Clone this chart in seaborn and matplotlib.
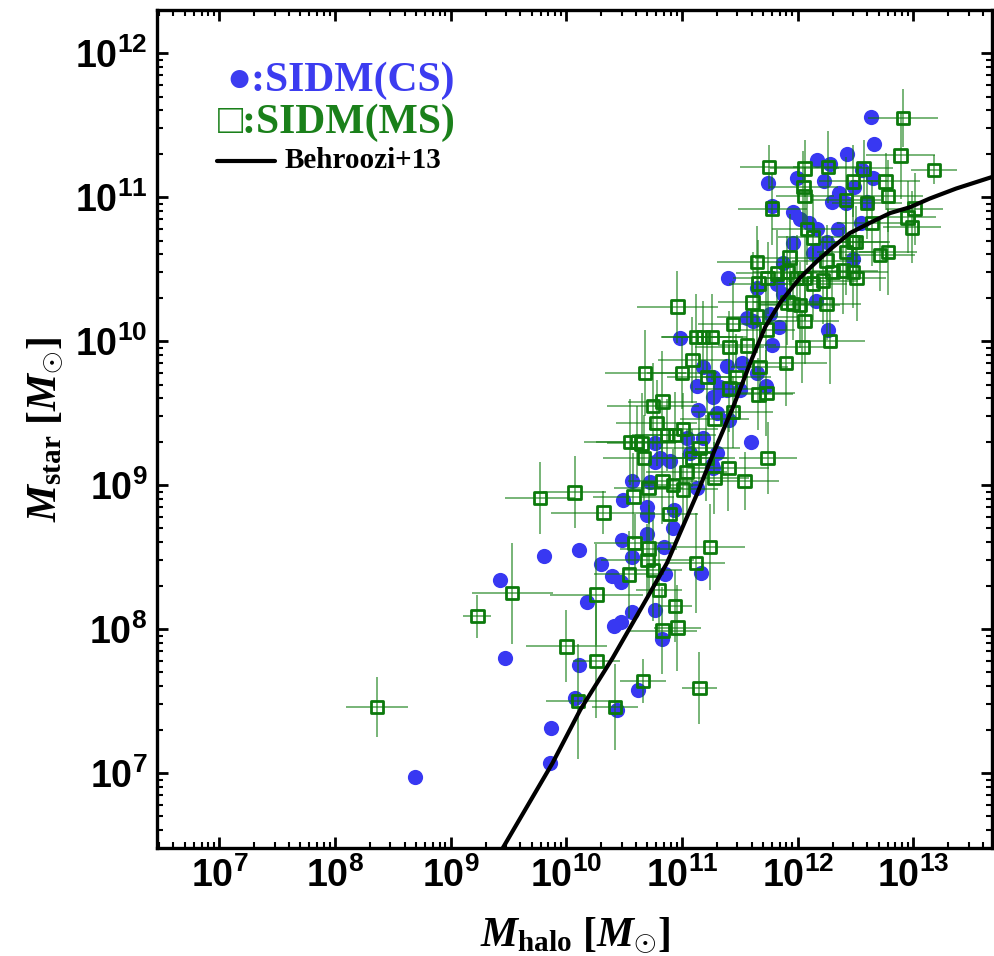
import numpy as np
import pandas as pd
import matplotlib
matplotlib.use("Agg")
import matplotlib.pyplot as plt
import seaborn as sns
from matplotlib.ticker import LogLocator, FixedLocator, FuncFormatter, NullFormatter

# ---------------- data (log10 of masses) ----------------
cs_logmh = [8.69, 9.86, 9.87, 9.47, 10.07, 10.11, 10.44, 10.62, 10.83, 10.41, 10.47, 10.57, 10.77, 10.18,
            9.43, 9.81, 10.11, 10.30, 10.39, 10.47, 10.48, 10.57, 10.70, 10.84, 10.92, 10.85, 11.16, 10.70,
            10.70, 10.93, 10.49, 10.57, 10.77, 10.90, 11.13, 11.26, 10.72, 11.07, 11.18, 11.14, 11.30, 11.41,
            11.27, 11.39, 11.50, 11.13, 11.18, 11.39, 11.52, 11.56, 11.76, 11.84, 11.78, 12.26, 11.60, 11.73,
            11.65, 10.98, 11.27, 11.40, 11.61, 11.65, 11.82, 11.87, 12.16, 11.96, 12.13, 11.87, 12.48, 12.25,
            12.16, 12.63, 12.66, 12.43, 12.17, 12.28, 11.99, 11.74, 12.23, 12.65, 12.56, 12.49, 12.36, 12.30,
            12.42, 12.60, 11.78, 11.96, 12.02, 12.10, 12.17, 12.35, 12.55, 11.33, 11.04, 11.30, 11.27, 10.77,
            10.81, 11.34]
cs_logms = [6.97, 7.07, 7.31, 7.80, 7.52, 7.75, 7.44, 7.58, 7.93, 8.02, 8.05, 8.12, 8.13, 8.19,
            8.34, 8.51, 8.55, 8.45, 8.37, 8.33, 8.62, 8.50, 8.66, 8.57, 8.70, 8.38, 8.39, 8.85,
            8.79, 8.83, 8.90, 9.03, 9.16, 9.17, 8.98, 9.14, 9.02, 9.22, 9.33, 9.52, 9.50, 9.45,
            9.61, 9.66, 9.66, 9.69, 9.82, 9.83, 9.85, 10.16, 10.19, 10.10, 9.97, 10.08, 9.30, 9.69,
            9.78, 10.02, 9.75, 10.44, 10.14, 10.37, 10.40, 10.33, 10.28, 10.68, 10.61, 10.54, 10.57, 10.69,
            10.63, 11.56, 11.37, 11.30, 11.26, 11.23, 11.13, 11.10, 11.11, 11.13, 11.19, 11.07, 11.03, 10.97,
            10.96, 10.97, 10.94, 10.90, 10.85, 10.82, 10.78, 10.78, 10.82, 9.68, 9.33, 9.22, 9.12, 9.29,
            9.19, 9.66]

ms_logmh = [8.36, 9.23, 9.53, 9.77, 10.07, 10.32, 10.00, 10.26, 10.10, 10.42, 10.66, 11.15, 10.26, 10.59,
            10.71, 10.70, 10.54, 10.75, 10.80, 10.94, 10.96, 10.83, 11.12, 11.24, 10.58, 10.71, 10.89, 10.83,
            10.92, 11.01, 11.04, 11.09, 11.21, 11.28, 11.40, 11.54, 11.74, 10.67, 10.55, 10.61, 10.65, 10.78,
            10.87, 10.94, 11.01, 10.75, 10.83, 10.68, 11.00, 11.09, 11.22, 11.47, 11.67, 11.41, 11.66, 11.73,
            11.44, 11.28, 11.15, 10.96, 11.44, 11.61, 11.65, 11.66, 11.74, 11.82, 11.91, 11.99, 12.06, 12.13,
            12.22, 12.30, 12.39, 12.48, 12.51, 11.91, 11.96, 12.02, 12.25, 12.06, 11.73, 12.28, 11.12, 11.18,
            11.26, 11.41, 11.56, 12.04, 11.90, 11.65, 11.93, 12.25, 12.42, 12.48, 12.91, 12.89, 13.18, 11.75,
            12.06, 12.26, 12.57, 12.48, 12.76, 12.05, 12.06, 11.78, 12.42, 12.60, 12.78, 13.01, 12.95, 12.99,
            12.08, 12.13, 12.64, 12.50, 12.71, 12.78]
ms_logms = [7.46, 8.09, 8.25, 8.91, 8.95, 8.81, 7.88, 7.78, 7.50, 7.46, 7.64, 7.59, 8.24, 8.60,
            8.56, 8.48, 8.38, 8.41, 8.27, 8.16, 8.01, 7.99, 8.46, 8.57, 8.92, 8.98, 8.80, 9.03,
            9.00, 8.97, 9.09, 9.19, 9.19, 9.05, 9.12, 9.03, 9.19, 9.19, 9.30, 9.30, 9.29, 9.43,
            9.35, 9.35, 9.39, 9.55, 9.58, 9.78, 9.78, 9.87, 9.75, 9.75, 9.82, 9.67, 9.63, 9.64,
            9.51, 9.46, 9.26, 10.24, 10.12, 10.27, 10.17, 10.40, 10.44, 10.47, 10.48, 10.44, 10.44, 10.40,
            10.42, 10.48, 10.49, 10.48, 10.44, 10.27, 10.26, 10.25, 10.26, 10.14, 10.08, 10.00, 10.03, 10.03,
            10.03, 9.96, 9.97, 9.96, 9.85, 10.55, 10.58, 10.56, 10.62, 10.69, 11.55, 11.29, 11.19, 11.21,
            11.20, 11.21, 11.20, 11.11, 11.11, 11.07, 11.01, 10.92, 10.98, 10.96, 11.01, 10.92, 10.86, 10.79,
            10.78, 10.72, 10.82, 10.69, 10.60, 10.62]
ms_err_logmh = [0.27, 0.12, 0.35, 0.30, 0.27, 0.45, 0.35, 0.20, 0.28, 0.20, 0.20, 0.15, 0.40, 0.35,
                0.25, 0.40, 0.30, 0.25, 0.20, 0.15, 0.20, 0.30, 0.25, 0.30, 0.35, 0.30, 0.25, 0.30,
                0.25, 0.30, 0.35, 0.30, 0.25, 0.30, 0.35, 0.30, 0.25, 0.35, 0.40, 0.35, 0.30, 0.35,
                0.30, 0.35, 0.30, 0.40, 0.30, 0.35, 0.30, 0.30, 0.35, 0.30, 0.25, 0.30, 0.30, 0.25,
                0.35, 0.30, 0.35, 0.35, 0.30, 0.30, 0.35, 0.25, 0.30, 0.35, 0.30, 0.30, 0.25, 0.30,
                0.30, 0.25, 0.30, 0.30, 0.25, 0.30, 0.30, 0.35, 0.30, 0.30, 0.25, 0.30, 0.30, 0.35,
                0.30, 0.30, 0.25, 0.30, 0.35, 0.35, 0.30, 0.30, 0.25, 0.30, 0.30, 0.30, 0.20, 0.25,
                0.30, 0.30, 0.25, 0.30, 0.30, 0.30, 0.25, 0.30, 0.30, 0.30, 0.30, 0.25, 0.25, 0.25,
                0.30, 0.30, 0.30, 0.30, 0.30, 0.25]
ms_err_logms = [0.21, 0.15, 0.35, 0.25, 0.25, 0.15, 0.25, 0.40, 0.40, 0.30, 0.15, 0.25, 0.35, 0.20,
                0.30, 0.25, 0.30, 0.35, 0.30, 0.25, 0.30, 0.30, 0.35, 0.30, 0.30, 0.25, 0.25, 0.30,
                0.25, 0.25, 0.30, 0.20, 0.30, 0.25, 0.30, 0.20, 0.25, 0.30, 0.30, 0.25, 0.35, 0.30,
                0.25, 0.30, 0.25, 0.30, 0.35, 0.30, 0.25, 0.30, 0.25, 0.30, 0.25, 0.30, 0.25, 0.30,
                0.25, 0.30, 0.25, 0.25, 0.30, 0.35, 0.25, 0.30, 0.25, 0.30, 0.25, 0.30, 0.30, 0.25,
                0.30, 0.25, 0.30, 0.25, 0.30, 0.30, 0.25, 0.30, 0.25, 0.30, 0.30, 0.30, 0.30, 0.25,
                0.30, 0.25, 0.30, 0.25, 0.30, 0.25, 0.30, 0.25, 0.30, 0.25, 0.20, 0.30, 0.10, 0.15,
                0.20, 0.25, 0.20, 0.25, 0.20, 0.25, 0.20, 0.25, 0.30, 0.25, 0.25, 0.25, 0.25, 0.25,
                0.25, 0.30, 0.30, 0.25, 0.25, 0.30]

b13_logmh = [9.45, 9.88, 10.12, 10.40, 10.70, 10.87, 11.13, 11.28, 11.44, 11.60, 11.72, 11.85, 12.02,
             12.16, 12.30, 12.45, 12.62, 12.80, 12.97, 13.14, 13.37, 13.68]
b13_logms = [6.48, 7.07, 7.44, 7.80, 8.22, 8.46, 8.94, 9.24, 9.54, 9.87, 10.10, 10.27, 10.44,
             10.55, 10.65, 10.75, 10.82, 10.89, 10.93, 10.99, 11.06, 11.14]

x_tick_exps = [7, 8, 9, 10, 11, 12, 13]
y_tick_exps = [7, 8, 9, 10, 11, 12]
xlim_log = (6.46, 13.68)
ylim_log = (6.48, 12.30)

# ---------------- style ----------------
sns.set_style("ticks")
plt.rcParams['font.family'] = ['Liberation Serif', 'DejaVu Sans']
plt.rcParams['mathtext.fontset'] = 'custom'
plt.rcParams['mathtext.rm'] = 'Liberation Serif:bold'
plt.rcParams['mathtext.bf'] = 'Liberation Serif:bold'
plt.rcParams['mathtext.it'] = 'Liberation Serif:italic:bold'
plt.rcParams['mathtext.sf'] = 'Liberation Sans:bold'

BLUE = '#3838f2'
GREEN = '#0c7a0c'

fig = plt.figure(figsize=(9.95, 9.56), dpi=100)
ax = fig.add_axes([157/995, 1-848/956, 835/995, 838/956])

cs = pd.DataFrame({'mh': 10**np.array(cs_logmh), 'ms': 10**np.array(cs_logms)})
ms = pd.DataFrame({'mh': 10**np.array(ms_logmh), 'ms': 10**np.array(ms_logms)})
b13 = pd.DataFrame({'mh': 10**np.array(b13_logmh), 'ms': 10**np.array(b13_logms)})

ax.set_xscale('log')
ax.set_yscale('log')

sns.scatterplot(data=cs, x='mh', y='ms', ax=ax, color=BLUE, s=120, linewidth=0, zorder=2)

exm = np.array(ms_err_logmh)
eym = np.array(ms_err_logms)
xerr = [ms['mh'] - ms['mh']/10**exm, ms['mh']*10**exm - ms['mh']]
yerr = [ms['ms'] - ms['ms']/10**eym, ms['ms']*10**eym - ms['ms']]
ax.errorbar(ms['mh'], ms['ms'], xerr=xerr, yerr=yerr, fmt='none', ecolor=GREEN,
            elinewidth=1.3, alpha=0.6, capsize=0, zorder=3)
sns.scatterplot(data=ms, x='mh', y='ms', ax=ax, marker='s', s=80, facecolors='none',
                edgecolor=GREEN, linewidth=2.0, zorder=4)

sns.lineplot(data=b13, x='mh', y='ms', ax=ax, color='black', linewidth=3, sort=False,
             estimator=None, zorder=5)

ax.set_xlim(10**xlim_log[0], 10**xlim_log[1])
ax.set_ylim(10**ylim_log[0], 10**ylim_log[1])

for sp in ax.spines.values():
    sp.set_linewidth(2.4)
    sp.set_color('black')
    sp.set_visible(True)

ax.xaxis.set_major_locator(FixedLocator([10.0**e for e in x_tick_exps]))
ax.yaxis.set_major_locator(FixedLocator([10.0**e for e in y_tick_exps]))
ax.xaxis.set_minor_locator(LogLocator(base=10, subs=np.arange(2, 10), numticks=100))
ax.yaxis.set_minor_locator(LogLocator(base=10, subs=np.arange(2, 10), numticks=100))
fmt = FuncFormatter(lambda v, p: r'$\mathsf{10^{%d}}$' % int(round(np.log10(v))))
ax.xaxis.set_major_formatter(fmt)
ax.yaxis.set_major_formatter(fmt)
ax.xaxis.set_minor_formatter(NullFormatter())
ax.yaxis.set_minor_formatter(NullFormatter())
ax.tick_params(which='major', direction='in', length=8, width=2, top=True, right=True,
               labelsize=27, pad=7, colors='black')
ax.tick_params(which='minor', direction='in', length=4.5, width=1.5, top=True, right=True,
               colors='black')

ax.set_xlabel(r'$\mathit{M}_{\mathbf{halo}}\ [\mathit{M}_{\odot}]$', fontsize=30, color='black')
ax.set_ylabel(r'$\mathit{M}_{\mathbf{star}}\ [\mathit{M}_{\odot}]$', fontsize=30, color='black')
ax.xaxis.set_label_coords(0.5, -0.080)
ax.yaxis.set_label_coords(-0.110, 0.5)

# legend drawn as text
ax.text(0.083, 0.916, '●:SIDM(CS)', transform=ax.transAxes, color='#3c3cf0', fontsize=30,
        fontweight='bold', va='center', ha='left', family=['Liberation Serif', 'DejaVu Sans'])
ax.text(0.073, 0.866, '□:SIDM(MS)', transform=ax.transAxes, color='#1a801a', fontsize=30,
        fontweight='bold', va='center', ha='left', family=['Liberation Serif', 'DejaVu Sans'])
ax.plot([0.072, 0.141], [0.820, 0.820], transform=ax.transAxes, color='black', lw=3)
ax.text(0.153, 0.821, 'Behroozi+13', transform=ax.transAxes, color='black', fontsize=21,
        fontweight='bold', va='center', ha='left')

fig.savefig('out.png', dpi=100)
